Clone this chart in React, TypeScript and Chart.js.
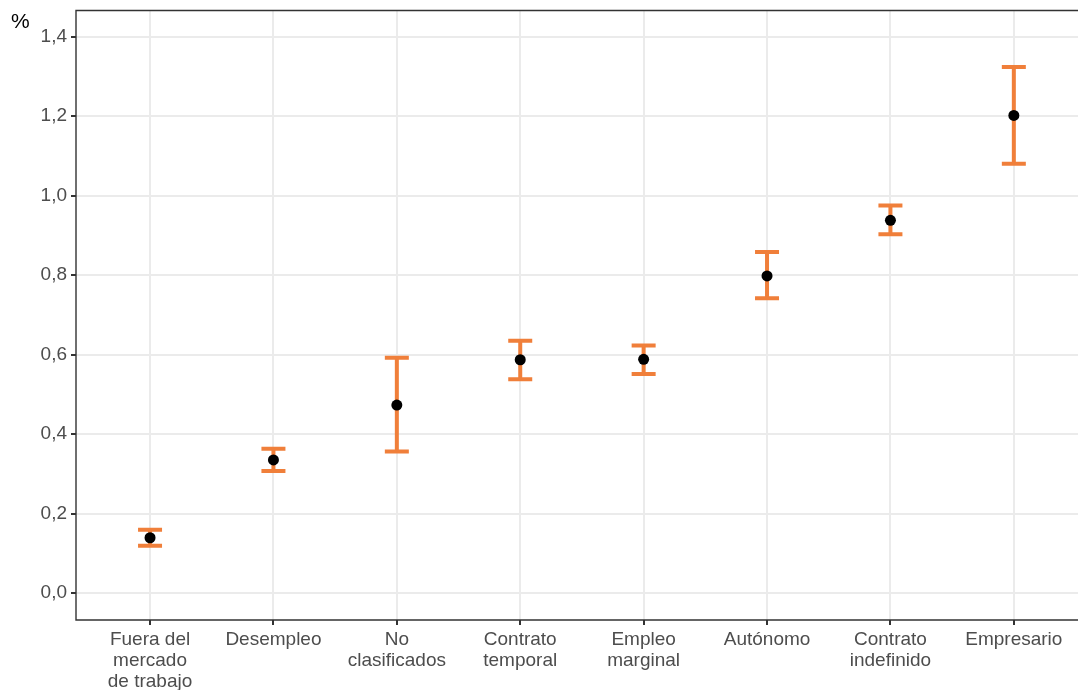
import React, { useEffect, useRef } from "react";
import { Chart, registerables } from "chart.js";

Chart.register(...registerables);

const categories: string[][] = [
  ["Fuera del", "mercado", "de trabajo"],
  ["Desempleo"],
  ["No", "clasificados"],
  ["Contrato", "temporal"],
  ["Empleo", "marginal"],
  ["Autónomo"],
  ["Contrato", "indefinido"],
  ["Empresario"],
];
const estimates = [0.139, 0.335, 0.473, 0.587, 0.588, 0.798, 0.938, 1.202];
const upper = [0.159, 0.363, 0.592, 0.635, 0.623, 0.858, 0.975, 1.324];
const lower = [0.119, 0.307, 0.356, 0.538, 0.551, 0.742, 0.903, 1.08];
const yTicks = [0, 0.2, 0.4, 0.6, 0.8, 1.0, 1.2, 1.4];

const ORANGE = "#F07F3A";
const FONT = "'Liberation Sans', Arial, sans-serif";

const errorBarPlugin = {
  id: "errorBars",
  beforeDatasetsDraw(chart: any) {
    const { ctx, chartArea, scales } = chart;
    ctx.save();
    // panel border (top, left, bottom)
    ctx.strokeStyle = "#333333";
    ctx.lineWidth = 1.4;
    ctx.beginPath();
    ctx.moveTo(chartArea.right + 2, chartArea.top);
    ctx.lineTo(chartArea.left, chartArea.top);
    ctx.lineTo(chartArea.left, chartArea.bottom);
    ctx.lineTo(chartArea.right + 2, chartArea.bottom);
    ctx.stroke();
    ctx.strokeStyle = ORANGE;
    ctx.lineWidth = 4;
    ctx.lineCap = "butt";
    const half = 12;
    estimates.forEach((_, i) => {
      const x = scales.x.getPixelForValue(i);
      const yt = scales.y.getPixelForValue(upper[i]);
      const yb = scales.y.getPixelForValue(lower[i]);
      ctx.beginPath();
      ctx.moveTo(x, yt);
      ctx.lineTo(x, yb);
      ctx.moveTo(x - half, yt);
      ctx.lineTo(x + half, yt);
      ctx.moveTo(x - half, yb);
      ctx.lineTo(x + half, yb);
      ctx.stroke();
    });
    ctx.restore();
  },
  afterDraw(chart: any) {
    const { ctx } = chart;
    ctx.save();
    ctx.fillStyle = "#000000";
    ctx.font = `21px ${FONT}`;
    ctx.textBaseline = "alphabetic";
    ctx.textAlign = "left";
    ctx.fillText("%", 11, 28);
    ctx.restore();
  },
};

export default function App() {
  const ref = useRef<HTMLCanvasElement | null>(null);
  useEffect(() => {
    document.body.style.margin = "0";
    const canvas = ref.current!;
    const chart = new Chart(canvas, {
      type: "scatter",
      data: {
        datasets: [
          {
            data: estimates.map((v, i) => ({ x: i, y: v })),
            backgroundColor: "#000000",
            borderColor: "#000000",
            pointRadius: 5.5,
            pointBorderWidth: 0,
          },
        ],
      },
      options: {
        animation: false,
        responsive: false,
        layout: { autoPadding: false, padding: { top: 10.5, right: 0, left: 0, bottom: 0 } },
        plugins: { legend: { display: false }, tooltip: { enabled: false } },
        scales: {
          x: {
            type: "linear",
            min: -0.6,
            max: 7.52,
            afterBuildTicks: (s: any) => {
              s.ticks = categories.map((_, i) => ({ value: i }));
            },
            afterFit: (s: any) => {
              s.height = 70;
              s.paddingLeft = 0;
              s.paddingRight = 0;
            },
            ticks: {
              autoSkip: false,
              maxRotation: 0,
              color: "#4D4D4D",
              font: { family: FONT, size: 19, lineHeight: 1.12 },
              padding: 4,
              callback: (v: any) => categories[Math.round(Number(v))] ?? "",
            },
            grid: {
              color: "#EBEBEB",
              lineWidth: 2,
              tickColor: "#333333",
              tickLength: 5,
            },
            border: { display: false },
          },
          y: {
            type: "linear",
            min: -0.068,
            max: 1.466,
            afterBuildTicks: (s: any) => {
              s.ticks = yTicks.map((v) => ({ value: v }));
            },
            afterFit: (s: any) => {
              s.width = 76;
              s.paddingTop = 0;
              s.paddingBottom = 0;
            },
            ticks: {
              color: "#4D4D4D",
              font: { family: FONT, size: 19 },
              padding: 4,
              callback: (v: any) => Number(v).toFixed(1).replace(".", ","),
            },
            grid: {
              color: "#EBEBEB",
              lineWidth: 2,
              tickColor: "#333333",
              tickLength: 5,
            },
            border: { display: false },
          },
        },
      },
      plugins: [errorBarPlugin],
    } as any);
    return () => chart.destroy();
  }, []);
  return (
    <div style={{ width: 1078, height: 690, background: "#fff", overflow: "hidden" }}>
      <canvas ref={ref} width={1078} height={690} />
    </div>
  );
}
